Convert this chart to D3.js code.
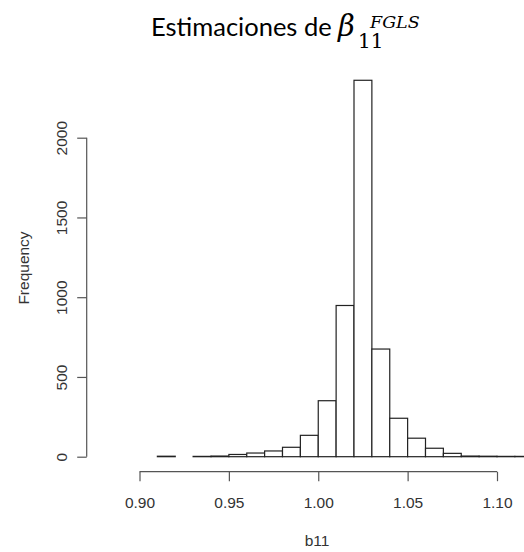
<!DOCTYPE html>
<html>
<head>
<meta charset="utf-8">
<script src="https://cdn.jsdelivr.net/npm/d3@7"></script>
<style>
  html, body { margin: 0; padding: 0; background: #fff; }
  svg { display: block; }
</style>
</head>
<body>
<svg id="chart" width="524" height="552"></svg>
<script>
// Histogram of b11 estimates: left bin edges (width 0.01) and counts
const binStarts = [0.91, 0.92, 0.93, 0.94, 0.95, 0.96, 0.97, 0.98, 0.99, 1.00, 1.01,
                   1.02, 1.03, 1.04, 1.05, 1.06, 1.07, 1.08, 1.09, 1.10, 1.11];
const counts    = [3, 0, 2, 4, 14, 23, 36, 59, 134, 351, 948,
                   2360, 675, 241, 116, 53, 21, 4, 3, 2, 2];
const binWidth = 0.01;
const xTicks = [0.90, 0.95, 1.00, 1.05, 1.10];
const yTicks = [0, 500, 1000, 1500, 2000];
const xLabel = "b11";
const yLabel = "Frequency";

const svg = d3.select("#chart");

const x = d3.scaleLinear().domain([0.90, 1.10]).range([139.5, 497]);
const y = d3.scaleLinear().domain([0, 2000]).range([456.7, 137.7]);

const bins = binStarts.map((b, i) => ({ x0: b, x1: b + binWidth, n: counts[i] }));

// bars
svg.append("g")
  .selectAll("rect")
  .data(bins)
  .join("rect")
  .attr("x", d => x(d.x0))
  .attr("y", d => y(d.n))
  .attr("width", d => x(d.x1) - x(d.x0))
  .attr("height", d => y(0) - y(d.n))
  .attr("fill", "#fff")
  .attr("stroke", "#222")
  .attr("stroke-width", 1.2);

const axisFont = "'Liberation Sans', Arial, sans-serif";

// x axis
const xAxis = svg.append("g")
  .attr("transform", "translate(0,471.7)")
  .call(d3.axisBottom(x).tickValues(xTicks).tickSize(9.5)
        .tickFormat(d3.format(".2f")));
xAxis.select(".domain").attr("stroke", "#555").attr("stroke-width", 1.2)
  .attr("d", `M${x(0.90)},0H${x(1.10)}`);
xAxis.selectAll(".tick line").attr("stroke", "#555").attr("stroke-width", 1.2);
xAxis.selectAll(".tick text").attr("font-family", axisFont).attr("font-size", 15.5)
  .attr("fill", "#333").attr("dy", null).attr("y", 36.5);

// y axis
const yAxis = svg.append("g")
  .attr("transform", "translate(86.7,0)")
  .call(d3.axisLeft(y).tickValues(yTicks).tickSize(9.5).tickFormat(d3.format("d")));
yAxis.select(".domain").attr("stroke", "#555").attr("stroke-width", 1.2)
  .attr("d", `M0,${y(0)}V${y(2000)}`);
yAxis.selectAll(".tick line").attr("stroke", "#555").attr("stroke-width", 1.2);
yAxis.selectAll(".tick text")
  .attr("font-family", axisFont).attr("font-size", 15.5).attr("fill", "#333")
  .attr("x", null).attr("dy", null)
  .attr("text-anchor", "middle")
  .attr("transform", "translate(-20,0) rotate(-90)");

// axis titles
svg.append("text")
  .attr("x", 317).attr("y", 546)
  .attr("text-anchor", "middle")
  .attr("font-family", axisFont).attr("font-size", 15.5).attr("fill", "#333")
  .text(xLabel);

svg.append("text")
  .attr("transform", "translate(29,268) rotate(-90)")
  .attr("text-anchor", "middle")
  .attr("font-family", axisFont).attr("font-size", 15.5).attr("fill", "#333")
  .text(yLabel);

// title: "Estimaciones de β_11^FGLS"
const title = svg.append("g");
title.append("text")
  .attr("x", 151).attr("y", 35.7)
  .attr("font-family", "Lato, 'Open Sans', sans-serif").attr("font-size", 25.5)
  .attr("fill", "#000")
  .text("Estimaciones de");
const mathFont = "'DejaVu Serif', 'Liberation Serif', serif";
title.append("text")
  .attr("x", 338).attr("y", 36)
  .attr("font-family", mathFont).attr("font-style", "italic").attr("font-size", 29)
  .text("β");
title.append("text")
  .attr("x", 358).attr("y", 47.7)
  .attr("font-family", mathFont).attr("font-size", 20)
  .text("11");
title.append("text")
  .attr("x", 370).attr("y", 27.7)
  .attr("font-family", mathFont).attr("font-style", "italic").attr("font-size", 17.5)
  .text("FGLS");
</script>
</body>
</html>
